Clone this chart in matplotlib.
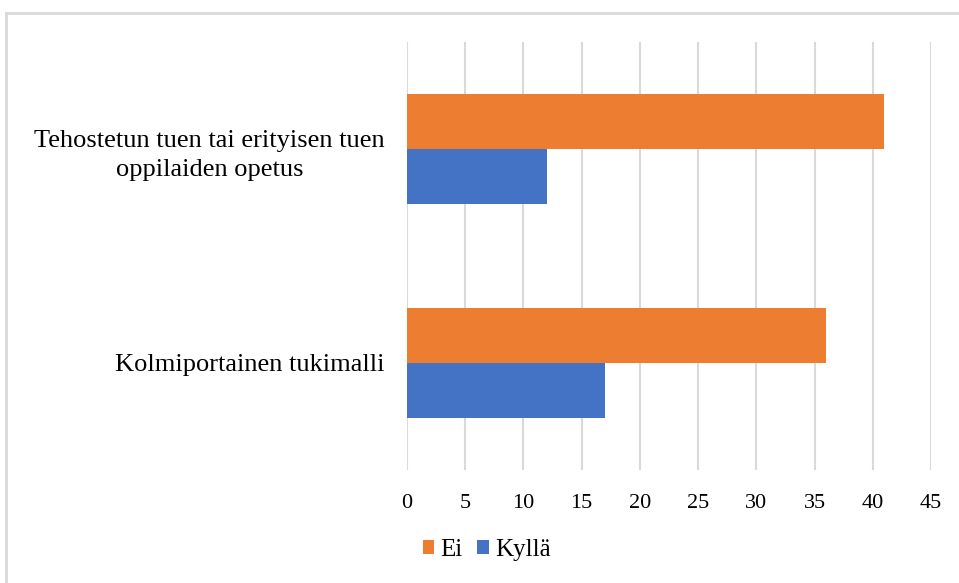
import numpy as np
import matplotlib.pyplot as plt
from matplotlib.lines import Line2D

# data
categories = ['Kolmiportainen tukimalli',
              'Tehostetun tuen tai erityisen tuen\noppilaiden opetus']
ei_values = [36, 41]
kylla_values = [17, 12]
series_names = ['Ei', 'Kyllä']
x_ticks = [0, 5, 10, 15, 20, 25, 30, 35, 40, 45]

plt.rcParams['font.family'] = ['Liberation Serif', 'DejaVu Serif']

fig = plt.figure(figsize=(9.59, 5.83), dpi=100)
ax = fig.add_axes([407/959, 1-470/583, (931-407)/959, (470-42)/583])

y = np.arange(len(categories))
h = 0.258
ax.barh(y + h/2, ei_values, height=h, color='#ED7D31', label=series_names[0], zorder=3)
ax.barh(y - h/2, kylla_values, height=h, color='#4472C4', label=series_names[1], zorder=3)

ax.set_xlim(0, 45)
ax.set_ylim(-0.5, 1.5)
ax.set_xticks(x_ticks)
ax.set_yticks(y)
ax.set_yticklabels(categories, fontsize=19, multialignment='center', linespacing=1.45)
ax.tick_params(axis='y', length=0, pad=16)
ax.tick_params(axis='x', length=0, labelsize=16, pad=17)

ax.grid(axis='x', color='#d9d9d9', linewidth=1.5, zorder=0)
for s in ax.spines.values():
    s.set_visible(False)

handles, labels = ax.get_legend_handles_labels()
fig.legend(handles, labels, loc='center left', bbox_to_anchor=(400/959, 1-550/583),
           ncol=2, frameon=False, fontsize=18, handlelength=0.45, handleheight=0.45,
           handletextpad=0.25, columnspacing=0.6)

# chart border (top and left edges visible)
y_top = 1 - 13/583
x_left = 6/959
fig.add_artist(Line2D([x_left, 1], [y_top, y_top], transform=fig.transFigure,
                      color='#d9d9d9', linewidth=2))
fig.add_artist(Line2D([x_left, x_left], [0, y_top], transform=fig.transFigure,
                      color='#d9d9d9', linewidth=2))

fig.savefig('out.png', dpi=100)
